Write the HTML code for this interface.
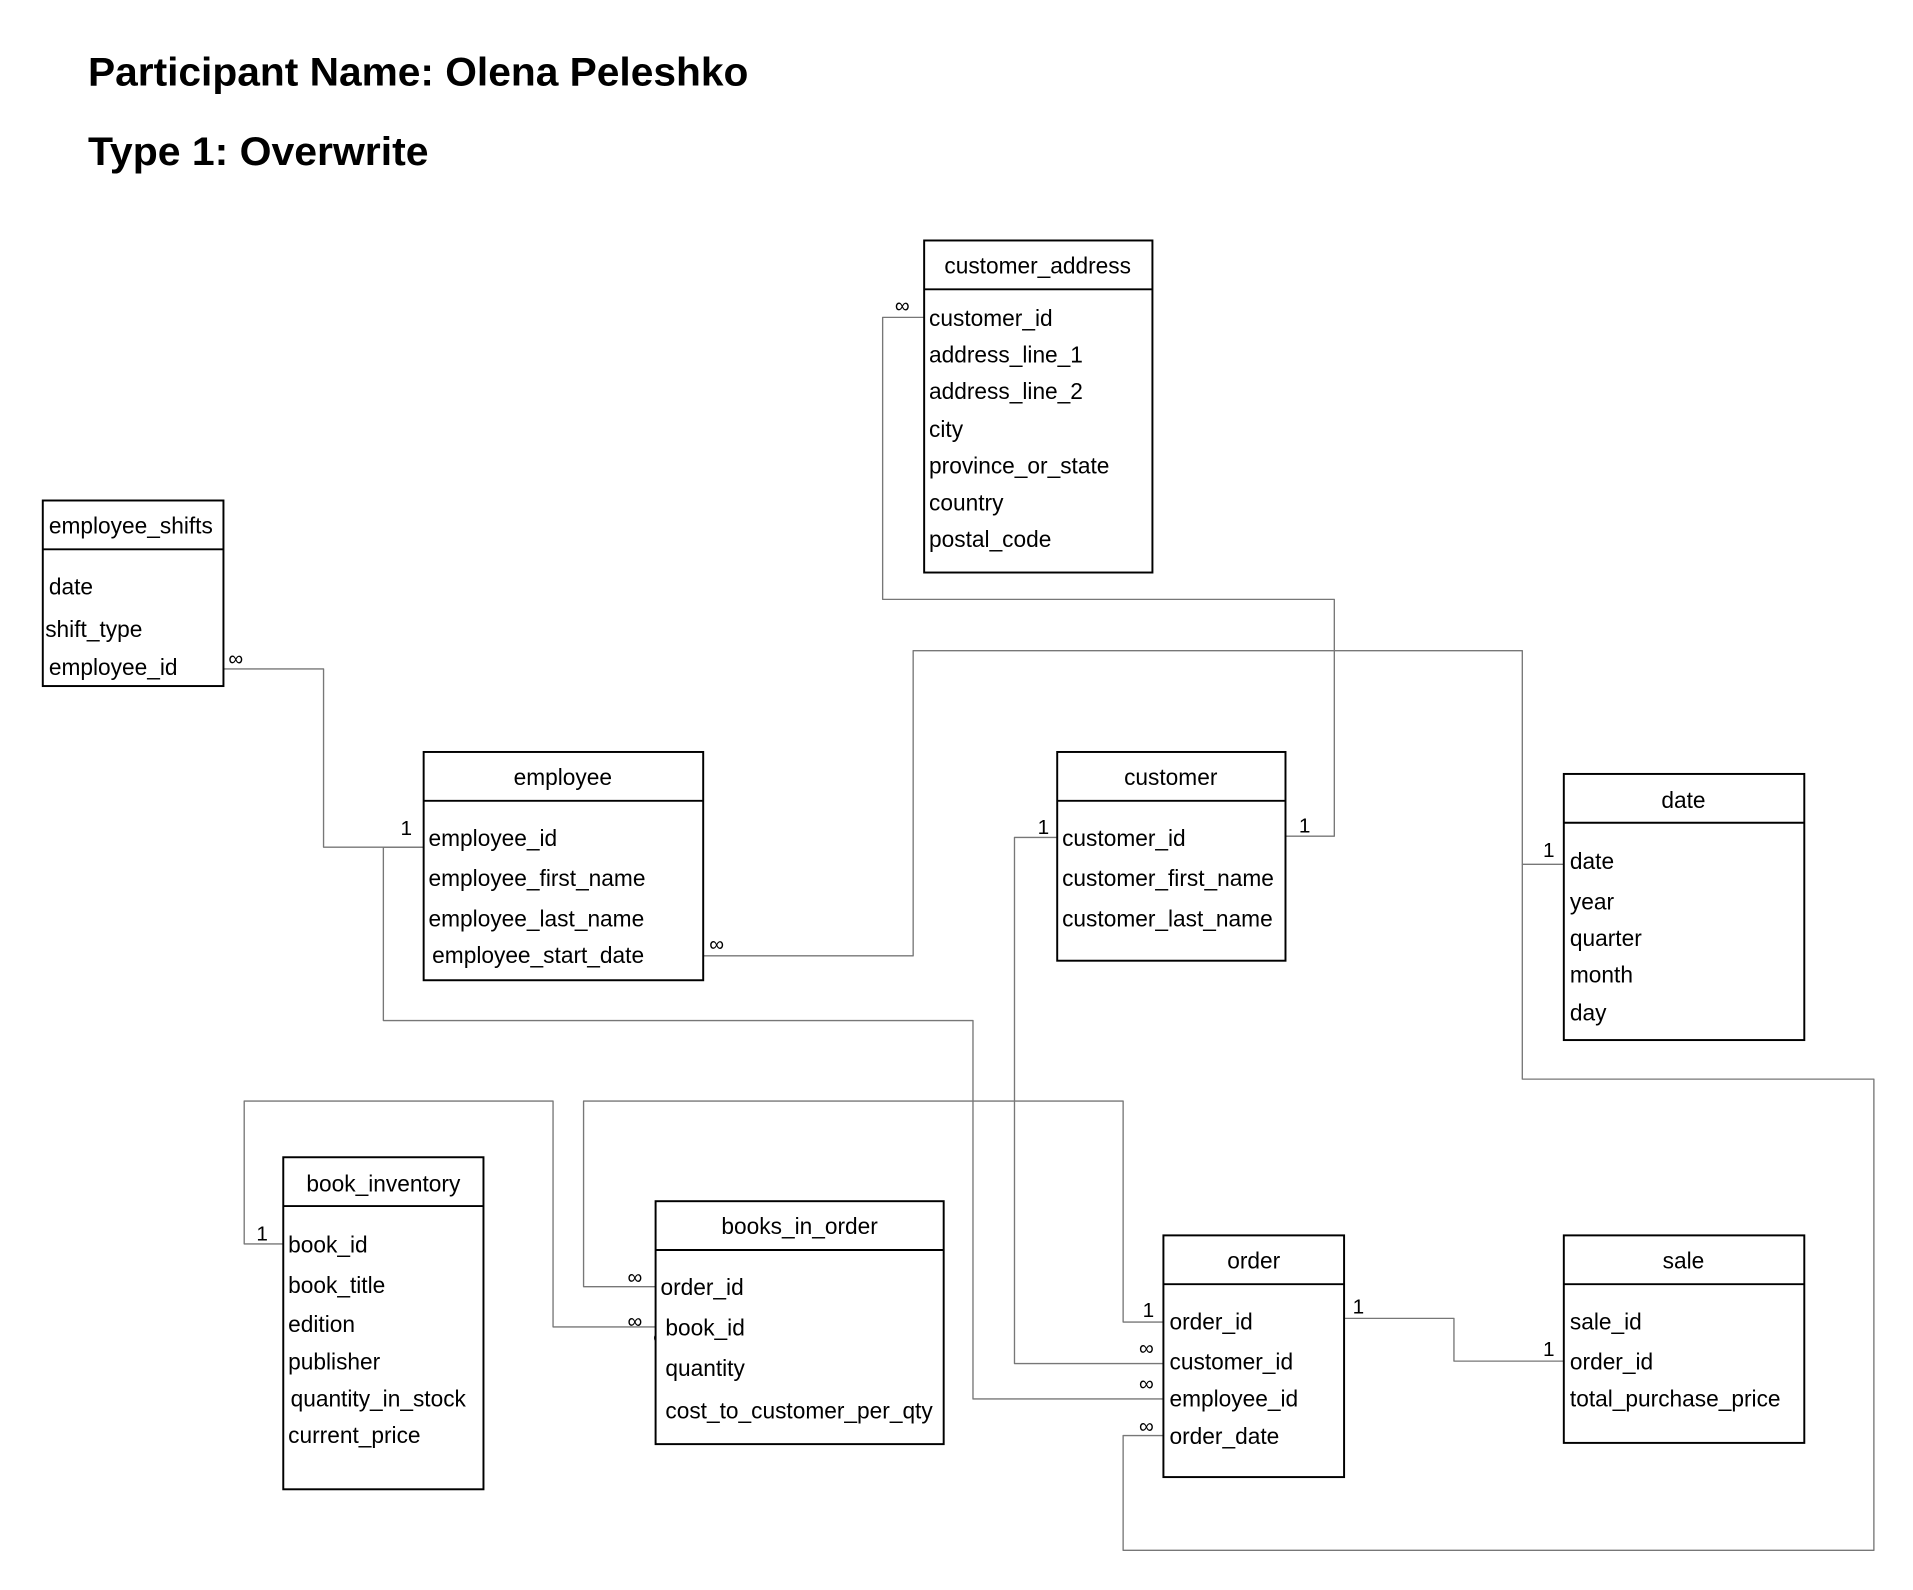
<!DOCTYPE html>
<html><head><meta charset="utf-8"><style>
html,body{margin:0;padding:0;background:#fff;}
svg{display:block;}
text{font-family:"Liberation Sans",Arial,sans-serif;fill:#000;}
.t{font-size:18.6px;}
.c{font-size:18.6px;text-anchor:middle;}
.l{font-size:17px;}
.box{fill:#fff;stroke:#000;stroke-width:1.6;}
.ln{fill:none;stroke:#777;stroke-width:1.1;stroke-linejoin:round;}
</style></head><body>
<svg width="1913" height="1590" viewBox="0 0 1567 1302.5" xmlns="http://www.w3.org/2000/svg">
<text x="72" y="70" font-size="33" font-weight="bold" textLength="541" lengthAdjust="spacingAndGlyphs">Participant Name: Olena Peleshko</text>
<text x="72" y="135" font-size="33" font-weight="bold" textLength="279" lengthAdjust="spacingAndGlyphs">Type 1: Overwrite</text>

<!-- connectors -->
<polyline class="ln" points="757,260 723,260 723,491 1093,491 1093,685 1053,685"/>
<polyline class="ln" points="183,548 265,548 265,694 347,694"/>
<polyline class="ln" points="576,783 748,783 748,533 1247,533 1247,708 1281,708"/>
<polyline class="ln" points="1247,708 1247,884 1535,884 1535,1270 920,1270 920,1176 953,1176"/>
<polyline class="ln" points="347,694 314,694 314,836 797,836 797,1146 953,1146"/>
<polyline class="ln" points="866,686 831,686 831,1117 953,1117"/>
<polyline class="ln" points="953,1083 920,1083 920,902 478,902 478,1054 537,1054"/>
<polyline class="ln" points="232,1019 200,1019 200,902 453,902 453,1087 537,1087"/>
<polyline class="ln" points="1101,1080 1191,1080 1191,1115 1281,1115"/>

<text class="l" x="733" y="256">∞</text>
<text class="l" x="1064" y="682">1</text>
<text class="l" x="187" y="545">∞</text>
<text class="l" x="328" y="684">1</text>
<text class="l" x="581" y="779">∞</text>
<text class="l" x="1264" y="702">1</text>
<text class="l" x="933" y="1174">∞</text>
<text class="l" x="933" y="1139">∞</text>
<text class="l" x="850" y="683">1</text>
<text class="l" x="933" y="1110">∞</text>
<text class="l" x="936" y="1079">1</text>
<text class="l" x="514" y="1052">∞</text>
<text class="l" x="210" y="1016">1</text>
<text class="l" x="514" y="1088">∞</text>
<text class="l" x="535" y="1101">∞</text>
<text class="l" x="1108" y="1076">1</text>
<text class="l" x="1264" y="1111">1</text>

<!-- customer_address -->
<rect class="box" x="757" y="197" width="187" height="272"/>
<line x1="757" y1="237" x2="944" y2="237" stroke="#000" stroke-width="1.6"/>
<text class="c" x="850" y="224">customer_address</text>
<text class="t" x="761" y="267">customer_id</text>
<text class="t" x="761" y="297">address_line_1</text>
<text class="t" x="761" y="327">address_line_2</text>
<text class="t" x="761" y="358">city</text>
<text class="t" x="761" y="388">province_or_state</text>
<text class="t" x="761" y="418">country</text>
<text class="t" x="761" y="448">postal_code</text>

<!-- employee_shifts -->
<rect class="box" x="35" y="410" width="148" height="152"/>
<line x1="35" y1="450" x2="183" y2="450" stroke="#000" stroke-width="1.6"/>
<text class="t" x="40" y="437">employee_shifts</text>
<text class="t" x="40" y="487">date</text>
<text class="t" x="37" y="522">shift_type</text>
<text class="t" x="40" y="553">employee_id</text>

<!-- employee -->
<rect class="box" x="347" y="616" width="229" height="187"/>
<line x1="347" y1="656" x2="576" y2="656" stroke="#000" stroke-width="1.6"/>
<text class="c" x="461" y="643">employee</text>
<text class="t" x="351" y="693">employee_id</text>
<text class="t" x="351" y="726">employee_first_name</text>
<text class="t" x="351" y="759">employee_last_name</text>
<text class="t" x="354" y="789">employee_start_date</text>

<!-- customer -->
<rect class="box" x="866" y="616" width="187" height="171"/>
<line x1="866" y1="656" x2="1053" y2="656" stroke="#000" stroke-width="1.6"/>
<text class="c" x="959" y="643">customer</text>
<text class="t" x="870" y="693">customer_id</text>
<text class="t" x="870" y="726">customer_first_name</text>
<text class="t" x="870" y="759">customer_last_name</text>

<!-- date -->
<rect class="box" x="1281" y="634" width="197" height="218"/>
<line x1="1281" y1="674" x2="1478" y2="674" stroke="#000" stroke-width="1.6"/>
<text class="c" x="1379" y="662">date</text>
<text class="t" x="1286" y="712">date</text>
<text class="t" x="1286" y="745">year</text>
<text class="t" x="1286" y="775">quarter</text>
<text class="t" x="1286" y="805">month</text>
<text class="t" x="1286" y="836">day</text>

<!-- book_inventory -->
<rect class="box" x="232" y="948" width="164" height="272"/>
<line x1="232" y1="988" x2="396" y2="988" stroke="#000" stroke-width="1.6"/>
<text class="c" x="314" y="976">book_inventory</text>
<text class="t" x="236" y="1026">book_id</text>
<text class="t" x="236" y="1059">book_title</text>
<text class="t" x="236" y="1091">edition</text>
<text class="t" x="236" y="1122">publisher</text>
<text class="t" x="238" y="1152">quantity_in_stock</text>
<text class="t" x="236" y="1182">current_price</text>

<!-- books_in_order -->
<rect class="box" x="537" y="984" width="236" height="199"/>
<line x1="537" y1="1024" x2="773" y2="1024" stroke="#000" stroke-width="1.6"/>
<text class="c" x="655" y="1011">books_in_order</text>
<text class="t" x="541" y="1061">order_id</text>
<text class="t" x="545" y="1094">book_id</text>
<text class="t" x="545" y="1127">quantity</text>
<text class="t" x="545" y="1162">cost_to_customer_per_qty</text>

<!-- order -->
<rect class="box" x="953" y="1012" width="148" height="198"/>
<line x1="953" y1="1052" x2="1101" y2="1052" stroke="#000" stroke-width="1.6"/>
<text class="c" x="1027" y="1039">order</text>
<text class="t" x="958" y="1089">order_id</text>
<text class="t" x="958" y="1122">customer_id</text>
<text class="t" x="958" y="1152">employee_id</text>
<text class="t" x="958" y="1183">order_date</text>

<!-- sale -->
<rect class="box" x="1281" y="1012" width="197" height="170"/>
<line x1="1281" y1="1052" x2="1478" y2="1052" stroke="#000" stroke-width="1.6"/>
<text class="c" x="1379" y="1039">sale</text>
<text class="t" x="1286" y="1089">sale_id</text>
<text class="t" x="1286" y="1122">order_id</text>
<text class="t" x="1286" y="1152">total_purchase_price</text>
</svg>
</body></html>
